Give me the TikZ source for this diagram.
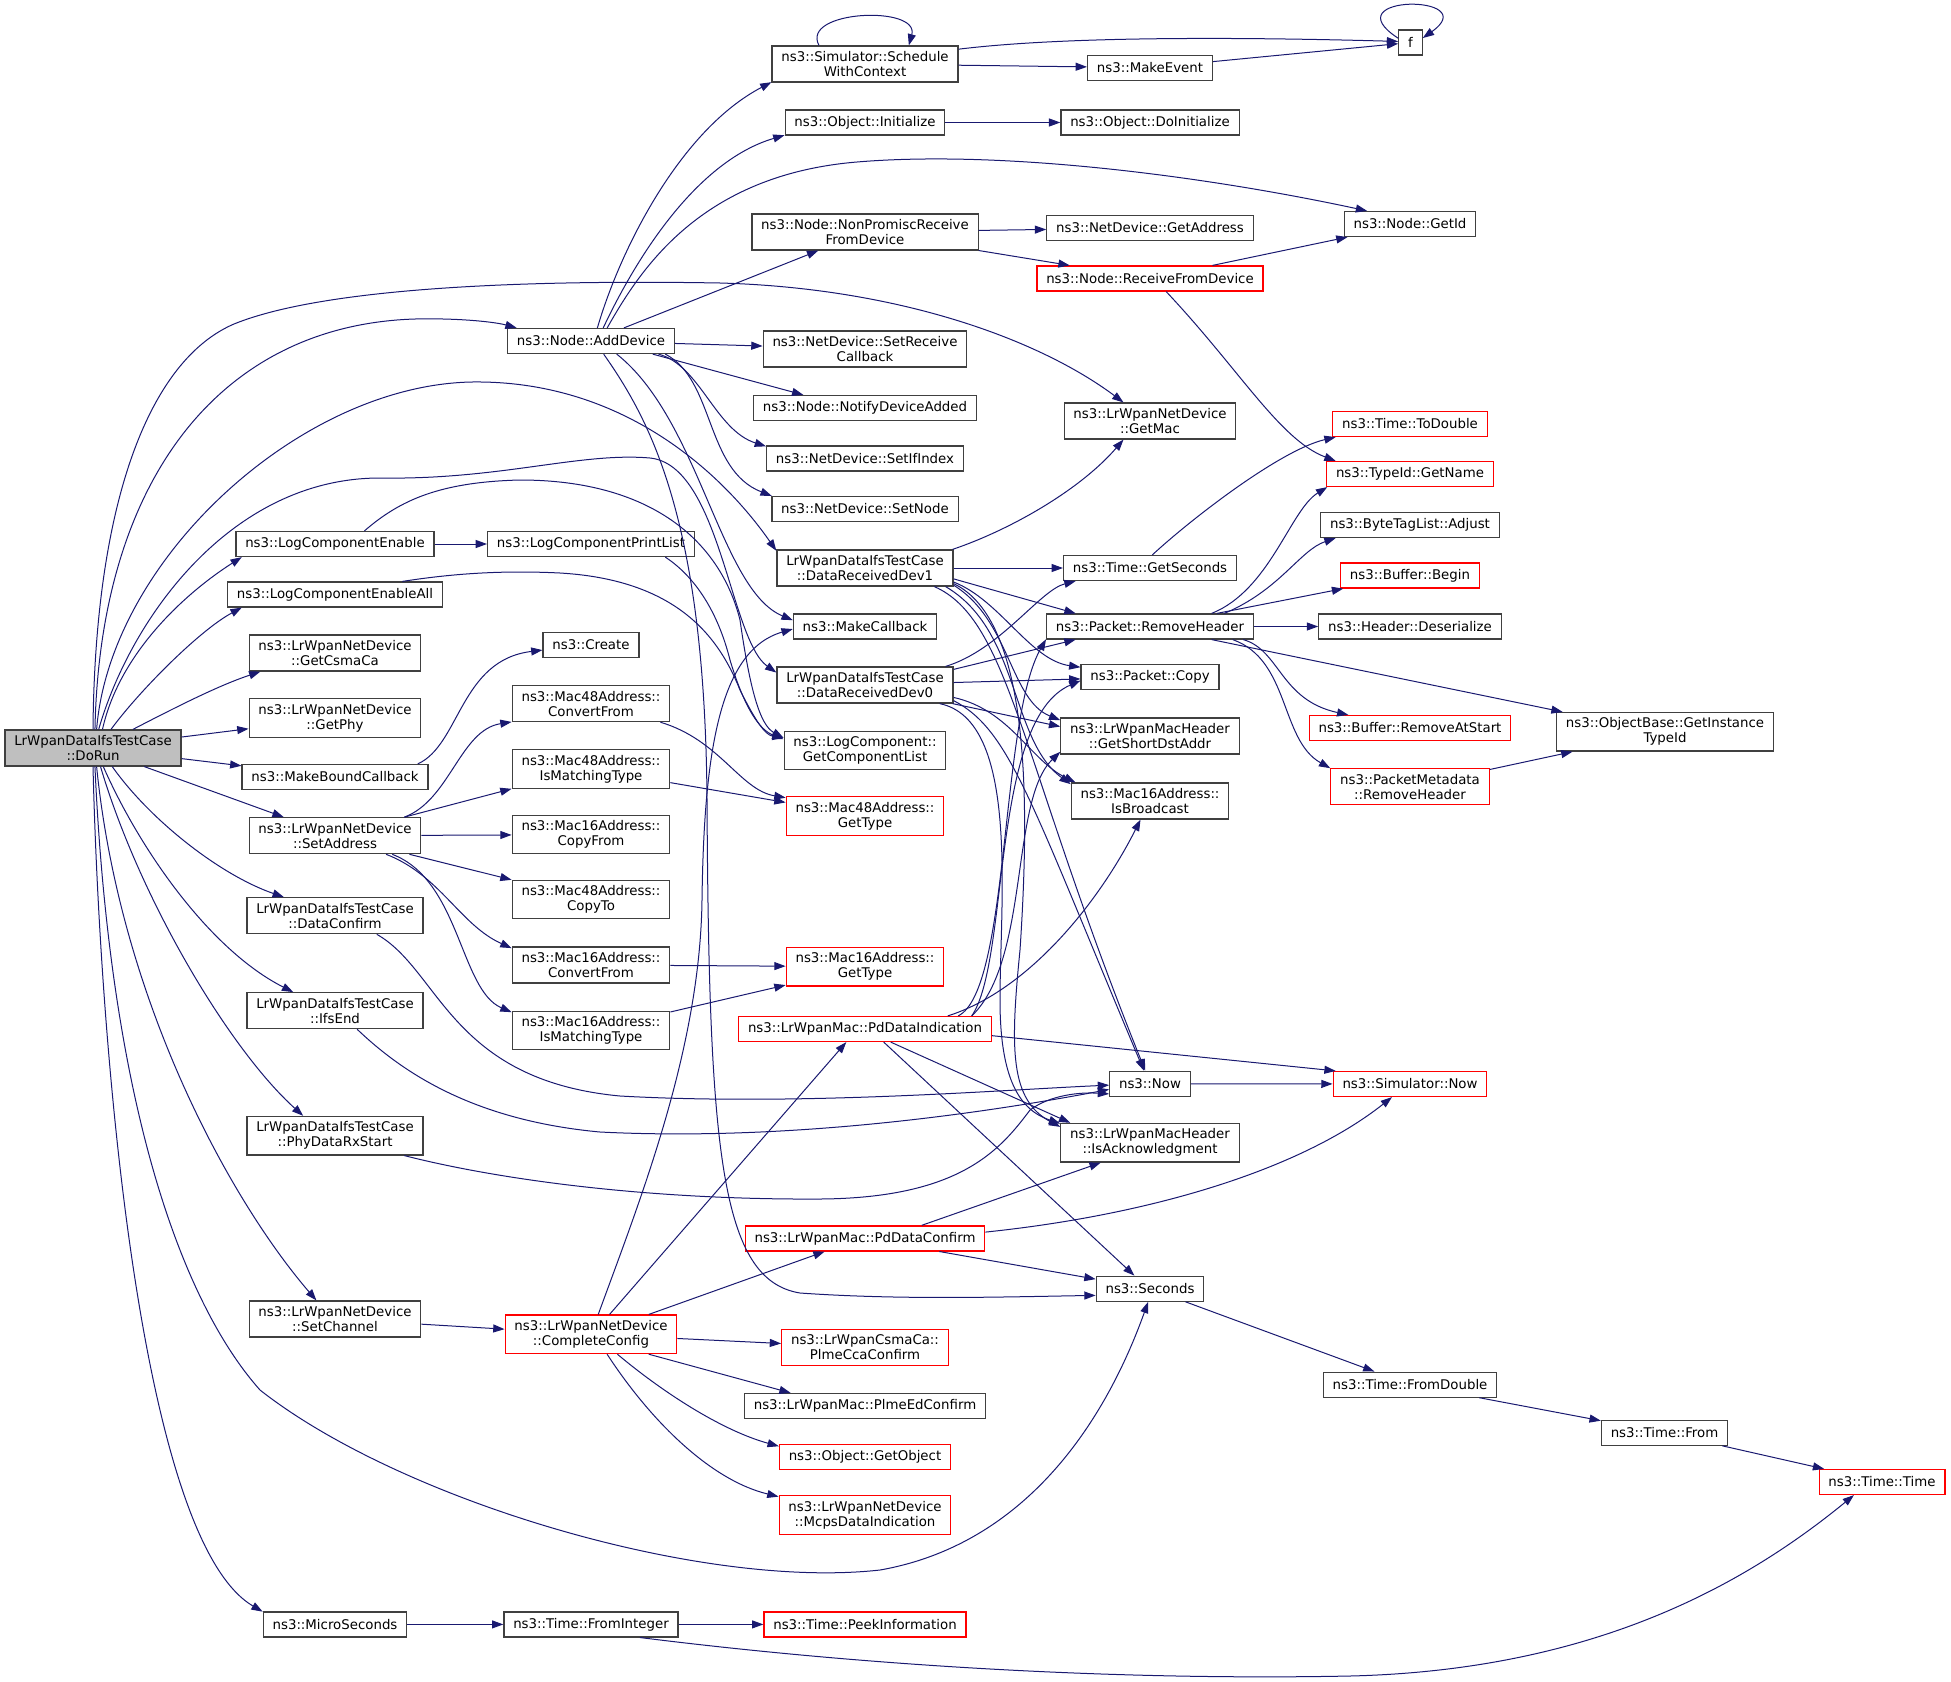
\documentclass[tikz,border=0pt]{standalone}
\usepackage{fontspec}
\setmainfont{DejaVu Sans}
\usetikzlibrary{arrows.meta}
\definecolor{edgeblue}{HTML}{191970}
\definecolor{boxgrey}{HTML}{404040}
\definecolor{rootfill}{HTML}{BFBFBF}
\begin{document}
\begin{tikzpicture}[x=0.75pt,y=-0.75pt,
    fn/.style={draw=boxgrey,line width=0.9pt,fill=white,align=center,
      font=\fontsize{10}{11.25}\selectfont,inner xsep=7pt,inner ysep=4pt,minimum height=18.75pt},
    fnred/.style={fn,draw=red},
    fnroot/.style={fn,fill=rootfill},
    call/.style={edgeblue,line width=0.75pt,-{Triangle[length=8.5pt,width=6pt]}}]
    \useasboundingbox (0,0) rectangle (1951,1681);
    \node[fnroot] (dorun) at (93,748) {LrWpanDataIfsTestCase\\::DoRun};
    \node[fn] (logen) at (335,544) {ns3::LogComponentEnable};
    \node[fn] (logenall) at (335,594.5) {ns3::LogComponentEnableAll};
    \node[fn] (getcsma) at (335,653) {ns3::LrWpanNetDevice\\::GetCsmaCa};
    \node[fn] (getphy) at (335,718) {ns3::LrWpanNetDevice\\::GetPhy};
    \node[fn] (mkbound) at (335,777) {ns3::MakeBoundCallback};
    \node[fn] (setaddr) at (335,835.7) {ns3::LrWpanNetDevice\\::SetAddress};
    \node[fn] (dataconf) at (335,915.7) {LrWpanDataIfsTestCase\\::DataConfirm};
    \node[fn] (ifsend) at (335,1010.7) {LrWpanDataIfsTestCase\\::IfsEnd};
    \node[fn] (phyrx) at (335,1135.7) {LrWpanDataIfsTestCase\\::PhyDataRxStart};
    \node[fn] (setchan) at (335,1319) {ns3::LrWpanNetDevice\\::SetChannel};
    \node[fn] (micro) at (335,1624.4) {ns3::MicroSeconds};
    \node[fn] (adddev) at (591,341) {ns3::Node::AddDevice};
    \node[fn] (printlist) at (591,544) {ns3::LogComponentPrintList};
    \node[fn] (create) at (591,645) {ns3::Create};
    \node[fn] (m48conv) at (591,703.6) {ns3::Mac48Address::\\ConvertFrom};
    \node[fn] (m48match) at (591,769) {ns3::Mac48Address::\\IsMatchingType};
    \node[fn] (m16copy) at (591,834.6) {ns3::Mac16Address::\\CopyFrom};
    \node[fn] (m48copy) at (591,899.6) {ns3::Mac48Address::\\CopyTo};
    \node[fn] (m16conv) at (591,965) {ns3::Mac16Address::\\ConvertFrom};
    \node[fn] (m16match) at (591,1030.5) {ns3::Mac16Address::\\IsMatchingType};
    \node[fnred] (complete) at (591,1334.3) {ns3::LrWpanNetDevice\\::CompleteConfig};
    \node[fn] (fromint) at (591,1624.4) {ns3::Time::FromInteger};
    \node[fn] (sched) at (865,64) {ns3::Simulator::Schedule\\WithContext};
    \node[fn] (init) at (865,122.5) {ns3::Object::Initialize};
    \node[fn] (nonprom) at (865,232) {ns3::Node::NonPromiscReceive\\FromDevice};
    \node[fn] (setrecv) at (865,349) {ns3::NetDevice::SetReceive\\Callback};
    \node[fn] (notify) at (865,408) {ns3::Node::NotifyDeviceAdded};
    \node[fn] (setifidx) at (865,458.5) {ns3::NetDevice::SetIfIndex};
    \node[fn] (setnode) at (865,509) {ns3::NetDevice::SetNode};
    \node[fn] (dev1) at (865,568) {LrWpanDataIfsTestCase\\::DataReceivedDev1};
    \node[fn] (mkcb) at (865,626.5) {ns3::MakeCallback};
    \node[fn] (dev0) at (865,685) {LrWpanDataIfsTestCase\\::DataReceivedDev0};
    \node[fn] (complist) at (865,750.7) {ns3::LogComponent::\\GetComponentList};
    \node[fnred] (m48type) at (865,816) {ns3::Mac48Address::\\GetType};
    \node[fnred] (m16type) at (865,966.6) {ns3::Mac16Address::\\GetType};
    \node[fnred] (pdind) at (865,1029) {ns3::LrWpanMac::PdDataIndication};
    \node[fnred] (pdconf) at (865,1238.4) {ns3::LrWpanMac::PdDataConfirm};
    \node[fnred] (ccaconf) at (865,1347.5) {ns3::LrWpanCsmaCa::\\PlmeCcaConfirm};
    \node[fn] (edconf) at (865,1406) {ns3::LrWpanMac::PlmeEdConfirm};
    \node[fnred] (getobj) at (865,1456.8) {ns3::Object::GetObject};
    \node[fnred] (mcps) at (865,1515) {ns3::LrWpanNetDevice\\::McpsDataIndication};
    \node[fnred] (peek) at (865,1624.4) {ns3::Time::PeekInformation};
    \node[fn] (mkevent) at (1150,67.7) {ns3::MakeEvent};
    \node[fn] (doinit) at (1150,122.5) {ns3::Object::DoInitialize};
    \node[fn] (getaddr) at (1150,228) {ns3::NetDevice::GetAddress};
    \node[fnred] (recvfrom) at (1150,278.5) {ns3::Node::ReceiveFromDevice};
    \node[fn] (getmac) at (1150,421) {ns3::LrWpanNetDevice\\::GetMac};
    \node[fn] (getsec) at (1150,568) {ns3::Time::GetSeconds};
    \node[fn] (rmhdr) at (1150,626.5) {ns3::Packet::RemoveHeader};
    \node[fn] (copy) at (1150,677) {ns3::Packet::Copy};
    \node[fn] (shortdst) at (1150,736) {ns3::LrWpanMacHeader\\::GetShortDstAddr};
    \node[fn] (bcast) at (1150,801) {ns3::Mac16Address::\\IsBroadcast};
    \node[fn] (now) at (1150,1083.7) {ns3::Now};
    \node[fn] (isack) at (1150,1142.7) {ns3::LrWpanMacHeader\\::IsAcknowledgment};
    \node[fn] (seconds) at (1150,1288.7) {ns3::Seconds};
    \node[fn] (f) at (1410.5,42.5) {f};
    \node[fn] (getid) at (1410,224) {ns3::Node::GetId};
    \node[fnred] (todouble) at (1410,424) {ns3::Time::ToDouble};
    \node[fnred] (getname) at (1410,474) {ns3::TypeId::GetName};
    \node[fn] (adjust) at (1410,525) {ns3::ByteTagList::Adjust};
    \node[fnred] (bufbegin) at (1410,575.5) {ns3::Buffer::Begin};
    \node[fn] (deser) at (1410,626.5) {ns3::Header::Deserialize};
    \node[fnred] (rmstart) at (1410,728) {ns3::Buffer::RemoveAtStart};
    \node[fnred] (pmrm) at (1410,786.6) {ns3::PacketMetadata\\::RemoveHeader};
    \node[fnred] (simnow) at (1410,1084) {ns3::Simulator::Now};
    \node[fn] (fromdbl) at (1410,1384.6) {ns3::Time::FromDouble};
    \node[fn] (insttid) at (1665,731.8) {ns3::ObjectBase::GetInstance\\TypeId};
    \node[fn] (from) at (1664.5,1432.7) {ns3::Time::From};
    \node[fnred] (timetime) at (1882,1482) {ns3::Time::Time};
    % calls of DoRun
    \draw[call] (dorun.90) .. controls (95,500) and (150,360) .. (234,324) .. controls (330,285) and (550,280) .. (720,283) .. controls (900,288) and (1040,340) .. (getmac.145);
    \draw[call] (dorun.84) .. controls (100,480) and (220,325) .. (415,319) .. controls (460,318) and (495,322) .. (adddev.170);
    \draw[call] (dorun.79) .. controls (110,560) and (300,385) .. (472,382) .. controls (620,380) and (720,470) .. (dev1.169);
    \draw[call] (dorun.73) .. controls (130,620) and (230,478) .. (380,478) .. controls (500,480) and (580,452) .. (650,458) .. controls (720,465) and (730,640) .. (dev0.172);
    \draw[call] (dorun.63) .. controls (120,650) and (190,590) .. (logen.188);
    \draw[call] (dorun.46) .. controls (140,690) and (200,630) .. (logenall.188);
    \draw[call] (dorun.25) .. controls (180,705) and (220,685) .. (getcsma.194);
    \draw[call] (dorun) -- (getphy);
    \draw[call] (dorun) -- (mkbound);
    \draw[call] (dorun) -- (setaddr);
    \draw[call] (dorun.-44) .. controls (150,820) and (220,875) .. (dataconf.160);
    \draw[call] (dorun.-61) .. controls (140,850) and (210,950) .. (ifsend.156);
    \draw[call] (dorun.-68) .. controls (140,900) and (230,1050) .. (phyrx.148);
    \draw[call] (dorun.-79) .. controls (120,1000) and (230,1200) .. (setchan.135);
    \draw[call] (dorun.-84) .. controls (110,1100) and (180,1300) .. (260,1390) .. controls (400,1500) and (700,1590) .. (880,1570) .. controls (1050,1540) and (1120,1380) .. (seconds.-98);
    \draw[call] (dorun.-90) .. controls (100,1050) and (140,1540) .. (micro.170);
    % calls of AddDevice
    \draw[call] (adddev.64) .. controls (620,250) and (680,130) .. (sched.191);
    \draw[call] (adddev.47) .. controls (640,250) and (700,160) .. (init.189);
    \draw[call] (adddev.39) .. controls (640,270) and (700,175) .. (857,162) .. controls (1000,150) and (1200,175) .. (getid.163);
    \draw[call] (adddev) -- (nonprom);
    \draw[call] (adddev) -- (setrecv);
    \draw[call] (adddev.-12) -- (notify.168);
    \draw[call] (adddev.-11) .. controls (700,365) and (715,430) .. (setifidx.173);
    \draw[call] (adddev.-10) .. controls (715,380) and (705,470) .. (setnode.172);
    \draw[call] (adddev.-27) .. controls (700,420) and (720,590) .. (mkcb.175);
    \draw[call] (adddev.-46) .. controls (650,420) and (705,520) .. (707,800) .. controls (709,1150) and (720,1280) .. (800,1293) .. controls (900,1300) and (1000,1297) .. (seconds.-173);
    \draw[call] (sched.158) .. controls (800,10) and (920,5) .. (sched.23);
    \draw[call] (sched.9) .. controls (1050,38) and (1200,36) .. (f.175);
    \draw[call] (sched) -- (mkevent);
    \draw[call] (mkevent) -- (f);
    \draw[call] (f.161) .. controls (1330,-6) and (1485,-6) .. (f.20);
    \draw[call] (init) -- (doinit);
    \draw[call] (nonprom) -- (getaddr);
    \draw[call] (nonprom) -- (recvfrom);
    \draw[call] (recvfrom) -- (getid);
    \draw[call] (recvfrom.-39) .. controls (1240,370) and (1280,440) .. (getname.170);
    % logging
    \draw[call] (logen) -- (printlist);
    \draw[call] (logen.24) .. controls (400,500) and (440,482) .. (520,480) .. controls (650,480) and (720,540) .. (740,620) .. controls (750,690) and (760,725) .. (complist.171);
    \draw[call] (logenall.11) .. controls (450,574) and (500,570) .. (560,573) .. controls (680,580) and (720,640) .. (740,690) .. controls (755,720) and (765,735) .. (complist.171);
    \draw[call] (printlist.-10) .. controls (700,580) and (720,620) .. (730,660) .. controls (745,710) and (760,730) .. (complist.172);
    % addresses
    \draw[call] (mkbound.9) .. controls (460,745) and (460,660) .. (create.186);
    \draw[call] (setaddr.15) .. controls (450,800) and (460,730) .. (m48conv.193);
    \draw[call] (setaddr.15) -- (m48match.194);
    \draw[call] (setaddr) -- (m16copy);
    \draw[call] (setaddr) -- (m48copy);
    \draw[call] (setaddr.-20) .. controls (440,875) and (460,925) .. (m16conv.168);
    \draw[call] (setaddr.-18) .. controls (460,880) and (460,990) .. (m16match.167);
    \draw[call] (m48conv.-15) .. controls (720,740) and (740,790) .. (m48type.167);
    \draw[call] (m48match) -- (m48type);
    \draw[call] (m16conv) -- (m16type);
    \draw[call] (m16match) -- (m16type);
    % test case callbacks
    \draw[call] (dataconf.-24) .. controls (440,970) and (450,1080) .. (620,1096) .. controls (800,1106) and (1000,1090) .. (now.182);
    \draw[call] (ifsend.-40) .. controls (400,1070) and (470,1120) .. (600,1132) .. controls (800,1142) and (1000,1110) .. (now.188);
    \draw[call] (phyrx.-16) .. controls (500,1180) and (650,1200) .. (820,1199) .. controls (960,1198) and (1000,1150) .. (1030,1110) .. controls (1050,1095) and (1080,1092) .. (now.194);
    \draw[call] (dev1.12) .. controls (1010,530) and (1080,490) .. (getmac.-145);
    \draw[call] (dev1) -- (getsec);
    \draw[call] (dev1.-7) -- (rmhdr.170);
    \draw[call] (dev1.-9) .. controls (1000,600) and (1030,660) .. (copy.172);
    \draw[call] (dev1.-11) .. controls (1010,620) and (1010,700) .. (shortdst.170);
    \draw[call] (dev1.-13) .. controls (1020,630) and (1010,740) .. (bcast.168);
    \draw[call] (dev1.-15) .. controls (1010,620) and (1020,760) .. (now.110);
    \draw[call] (dev1.-10) .. controls (1030,620) and (1030,800) .. (1020,950) .. controls (1010,1050) and (1010,1100) .. (isack.170);
    \draw[call] (dev0.13) .. controls (1000,650) and (1040,590) .. (getsec.190);
    \draw[call] (dev0.10) -- (rmhdr.190);
    \draw[call] (dev0) -- (copy);
    \draw[call] (dev0.-12) -- (shortdst.174);
    \draw[call] (dev0.-8) .. controls (1010,710) and (1030,760) .. (bcast.166);
    \draw[call] (dev0.-10) .. controls (1010,730) and (1030,800) .. (now.115);
    \draw[call] (dev0.-14) .. controls (1020,720) and (1000,900) .. (1000,1000) .. controls (1000,1080) and (1020,1110) .. (isack.168);
    % mac
    \draw[call] (setchan) -- (complete);
    \draw[call] (complete.70) .. controls (640,1200) and (700,1050) .. (702,900) .. controls (704,750) and (720,650) .. (mkcb.182);
    \draw[call] (complete.47) -- (pdind.-145);
    \draw[call] (complete.19) -- (pdconf.-162);
    \draw[call] (complete) -- (ccaconf);
    \draw[call] (complete.-19) -- (edconf.170);
    \draw[call] (complete.-37) .. controls (660,1390) and (720,1430) .. (getobj.173);
    \draw[call] (complete.-51) .. controls (650,1420) and (710,1480) .. (mcps.168);
    \draw[call] (pdind.8.5) .. controls (1010,990) and (1000,720) .. (rmhdr.187);
    \draw[call] (pdind.7.5) .. controls (1010,960) and (990,720) .. (copy.183);
    \draw[call] (pdind.7) .. controls (1030,960) and (1010,800) .. (shortdst.190);
    \draw[call] (pdind.9) .. controls (1030,990) and (1100,900) .. (bcast.-117);
    \draw[call] (pdind.-3) -- (simnow.170);
    \draw[call] (pdind.-27) -- (isack.166);
    \draw[call] (pdind.-35) -- (seconds.140);
    \draw[call] (pdconf.13) -- (isack.-158);
    \draw[call] (pdconf.3) .. controls (1150,1215) and (1300,1170) .. (simnow.-144);
    \draw[call] (pdconf.-10) -- (seconds.170);
    \draw[call] (now) -- (simnow);
    % packet and time
    \draw[call] (getsec.80) .. controls (1190,520) and (1280,450) .. (todouble.190);
    \draw[call] (rmhdr.12) .. controls (1270,590) and (1290,510) .. (getname.189);
    \draw[call] (rmhdr.10) .. controls (1280,590) and (1300,550) .. (adjust.190);
    \draw[call] (rmhdr) -- (bufbegin);
    \draw[call] (rmhdr) -- (deser);
    \draw[call] (rmhdr.-12) -- (insttid.169);
    \draw[call] (rmhdr.-8) .. controls (1280,650) and (1280,700) .. (rmstart.168);
    \draw[call] (rmhdr.-9) .. controls (1290,660) and (1280,740) .. (pmrm.167);
    \draw[call] (pmrm) -- (insttid);
    \draw[call] (seconds) -- (fromdbl);
    \draw[call] (fromdbl) -- (from);
    \draw[call] (from) -- (timetime);
    \draw[call] (micro) -- (fromint);
    \draw[call] (fromint) -- (peek);
    \draw[call] (fromint.-15) .. controls (900,1670) and (1150,1680) .. (1350,1676) .. controls (1600,1670) and (1750,1580) .. (timetime.-155);
\end{tikzpicture}
\end{document}
